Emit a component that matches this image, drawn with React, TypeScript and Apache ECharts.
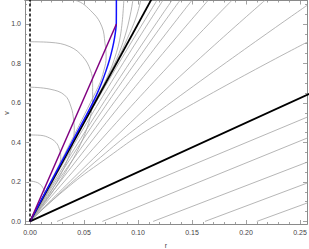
import React, { useEffect, useRef } from "react";
import * as echarts from "echarts";

// axis ranges and ticks
const X_MIN = -0.00463;
const X_MAX = 0.2565;
const Y_MIN = -0.013;
const Y_MAX = 1.119;
const xMajorTicks = [0, 0.05, 0.1, 0.15, 0.2, 0.25];
const xMinorTicks = [0.01, 0.02, 0.03, 0.04, 0.06, 0.07, 0.08, 0.09, 0.11, 0.12, 0.13, 0.14, 0.16, 0.17, 0.18, 0.19, 0.21, 0.22, 0.23, 0.24];
const yMajorTicks = [0, 0.2, 0.4, 0.6, 0.8, 1.0];
const yMinorTicks = [0.05, 0.1, 0.15, 0.25, 0.3, 0.35, 0.45, 0.5, 0.55, 0.65, 0.7, 0.75, 0.85, 0.9, 0.95, 1.05, 1.1];
const xName = "r";
const yName = "v";

// thick reference lines
const steepLine = [[0, 0], [0.115, 1.15]];
const shallowLine = [[0, 0], [0.26, 0.65]];
const dashedLine = [[0, 0], [0, 1.13]];

// purple and blue curves
const purpleCurve = [[0, 0], [0.08, 1.0]];
const blueCurve = [
  [0, 0], [0.0242, 0.25], [0.0485, 0.5], [0.0562, 0.58], [0.0615, 0.64], [0.0662, 0.7],
  [0.0702, 0.76], [0.0737, 0.82], [0.0765, 0.88], [0.0783, 0.93], [0.0794, 0.97],
  [0.0799, 1.0], [0.08, 1.13],
];

// gray arcs starting at r = 0
const arcCurves = [
  [[0, 0.205], [0.005, 0.2], [0.009, 0.19], [0.012, 0.17], [0.0135, 0.15], [0, 0]],
  [[0, 0.438], [0.01, 0.436], [0.018, 0.423], [0.024, 0.4], [0.027, 0.37], [0.0285, 0.33], [0.028, 0.3], [0, 0]],
  [[0, 0.68], [0.0185, 0.67], [0.032, 0.64], [0.038, 0.58], [0.0405, 0.51], [0.041, 0.46], [0, 0]],
  [[0, 0.91], [0.0185, 0.907], [0.037, 0.885], [0.049, 0.834], [0.056, 0.766], [0.058, 0.7], [0.058, 0.62], [0, 0]],
  [[0.03, 1.125], [0.0417, 1.12], [0.0583, 1.056], [0.0667, 0.985], [0.0694, 0.904], [0.0705, 0.833], [0.0685, 0.767], [0.063, 0.68], [0, 0]],
];

// gray curves between blue curve and steep line
const innerCurves = [
  [[0, 0], [0.062, 0.625], [0.0705, 0.72], [0.078, 0.82], [0.084, 0.95], [0.087, 1.13]],
  [[0, 0], [0.07, 0.71], [0.08, 0.82], [0.088, 0.94], [0.093, 1.05], [0.0955, 1.13]],
  [[0, 0], [0.08, 0.81], [0.09, 0.925], [0.098, 1.03], [0.103, 1.13]],
];

// gray fan curves between the two thick lines
const fanCurves = [
  [[0, 0], [0.0588, 0.582], [0.1176, 1.12]],
  [[0, 0], [0.0616, 0.582], [0.1231, 1.12]],
  [[0, 0], [0.0658, 0.582], [0.1315, 1.12]],
  [[0, 0], [0.0695, 0.582], [0.1389, 1.12]],
  [[0, 0], [0.075, 0.582], [0.15, 1.12]],
  [[0, 0], [0.0825, 0.582], [0.165, 1.12]],
  [[0, 0], [0.0935, 0.582], [0.187, 1.12]],
  [[0, 0], [0.1088, 0.582], [0.2176, 1.12]],
  [[0, 0], [0.06, 0.3], [0.12, 0.56], [0.257, 1.096]],
  [[0, 0], [0.03, 0.15], [0.0648, 0.296], [0.12, 0.499], [0.257, 0.909]],
];

// gray lines below the shallow line, starting on v = 0
const lowerCurves = [
  [[0.025, 0], [0.257, 0.529]],
  [[0.067, 0], [0.257, 0.423]],
  [[0.114, 0], [0.257, 0.301]],
  [[0.162, 0], [0.257, 0.195]],
  [[0.21, 0], [0.257, 0.094]],
];

const GRAY = "#a3a3a3";
const FRAME = "#8a8a8a";
const LABEL = "#444444";

function lineSeries(data: number[][], color: string, width: number, smooth: number | boolean, z: number, type: any = "solid") {
  return {
    type: "line",
    data,
    xAxisIndex: 0,
    yAxisIndex: 0,
    showSymbol: false,
    symbol: "none",
    smooth,
    clip: true,
    z,
    silent: true,
    lineStyle: { color, width, type },
  };
}

export default function App() {
  const ref = useRef<HTMLDivElement>(null);
  useEffect(() => {
    if (!ref.current) return;
    const chart = echarts.init(ref.current, undefined, { renderer: "svg" });
    const font = { fontFamily: "Liberation Sans, Arial, sans-serif", fontSize: 7, color: LABEL };
    const xAxisBase = (position: string, ticks: number[], len: number, labels: boolean) => ({
      type: "value",
      position,
      min: X_MIN,
      max: X_MAX,
      axisLine: { show: true, onZero: false, lineStyle: { color: FRAME, width: 1 } },
      axisTick: { show: true, inside: true, length: len, customValues: ticks, lineStyle: { color: FRAME, width: 0.8 } },
      axisLabel: labels
        ? { show: true, customValues: xMajorTicks, formatter: (v: number) => v.toFixed(2), margin: 5, ...font }
        : { show: false },
      splitLine: { show: false },
    });
    const yAxisBase = (position: string, ticks: number[], len: number, labels: boolean) => ({
      type: "value",
      position,
      min: Y_MIN,
      max: Y_MAX,
      axisLine: { show: true, onZero: false, lineStyle: { color: FRAME, width: 1 } },
      axisTick: { show: true, inside: true, length: len, customValues: ticks, lineStyle: { color: FRAME, width: 0.8 } },
      axisLabel: labels
        ? { show: true, customValues: yMajorTicks, formatter: (v: number) => v.toFixed(1), margin: 4, ...font }
        : { show: false },
      splitLine: { show: false },
    });

    const series: any[] = [];
    lowerCurves.forEach((c) => series.push(lineSeries(c, GRAY, 0.8, false, 1)));
    fanCurves.forEach((c) => series.push(lineSeries(c, GRAY, 0.8, 0.5, 1)));
    innerCurves.forEach((c) => series.push(lineSeries(c, GRAY, 0.8, 0.4, 1)));
    arcCurves.forEach((c) => series.push(lineSeries(c, GRAY, 0.8, 0.4, 1)));
    series.push(lineSeries(steepLine, "#000000", 1.8, false, 3));
    series.push(lineSeries(shallowLine, "#000000", 1.8, false, 3));
    series.push(lineSeries(blueCurve, "#1010ff", 1.5, 0.3, 4));
    series.push(lineSeries(purpleCurve, "#800080", 1.5, false, 5));
    series.push(lineSeries(dashedLine, "#000000", 1.5, false, 6, [3, 2]));

    const xMain: any = xAxisBase("bottom", xMajorTicks, 4, true);
    xMain.name = xName;
    xMain.nameLocation = "middle";
    xMain.nameGap = 18;
    xMain.nameTextStyle = { ...font, fontSize: 7 };

    chart.setOption({
      animation: false,
      backgroundColor: "#ffffff",
      grid: { left: 25, right: 2, top: 0.5, bottom: 25, containLabel: false, outerBoundsMode: "none" },
      xAxis: [
        xMain,
        xAxisBase("bottom", xMinorTicks, 2, false),
        xAxisBase("top", xMajorTicks, 4, false),
        xAxisBase("top", xMinorTicks, 2, false),
      ],
      yAxis: [
        yAxisBase("left", yMajorTicks, 4, true),
        yAxisBase("left", yMinorTicks, 2, false),
        yAxisBase("right", yMajorTicks, 4, false),
        yAxisBase("right", yMinorTicks, 2, false),
      ],
      graphic: [
        {
          type: "text",
          x: 6,
          y: 113,
          rotation: Math.PI / 2,
          style: {
            text: yName,
            fill: LABEL,
            fontSize: 7,
            fontFamily: "Liberation Sans, Arial, sans-serif",
            align: "center",
            verticalAlign: "middle",
          },
        },
      ],
      series,
    });
    return () => chart.dispose();
  }, []);
  return <div ref={ref} style={{ width: 309, height: 249, position: "absolute", left: 0, top: 0 }} />;
}
